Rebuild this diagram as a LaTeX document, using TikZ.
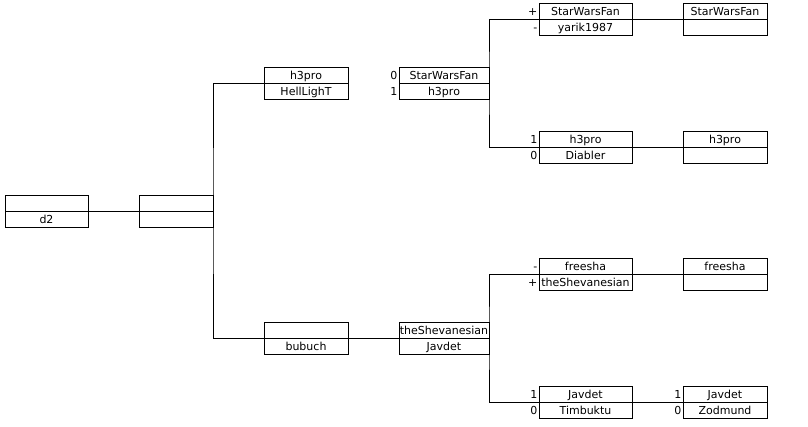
\documentclass[tikz,border=0pt]{standalone}
\usepackage{fontspec}
\setmainfont{DejaVu Sans}
\usetikzlibrary{positioning}

\begin{document}
\begin{tikzpicture}[x=1pt,y=-1pt,
    cell/.style={draw, line width=0.9pt, minimum height=16pt, inner xsep=0pt, inner ysep=0pt,
      outer sep=0pt, text height=9pt, text depth=0pt, font=\fontsize{11}{12}\selectfont},
    side/.style={inner sep=1.5pt, text height=9pt, text depth=0pt, font=\fontsize{11}{12}\selectfont},
    edge/.style={line width=0.9pt}]
    \useasboundingbox (0,0) rectangle (808,427);
    % root and first split
    \node[cell, minimum width=83pt] (r1) at (46.5,203) {};
    \node[cell, minimum width=83pt, below=0pt of r1] (r2) {d2};
    \node[cell, minimum width=74pt] (s1) at (176,203) {};
    \node[cell, minimum width=74pt, below=0pt of s1] (s2) {};
    % upper half
    \node[cell, minimum width=84pt] (h1) at (306,75) {h3pro};
    \node[cell, minimum width=84pt, below=0pt of h1] (h2) {HellLighT};
    \node[cell, minimum width=90pt, label={[side]left:0}] (sw1) at (444,75) {StarWarsFan};
    \node[cell, minimum width=90pt, label={[side]left:1}, below=0pt of sw1] (sw2) {h3pro};
    \node[cell, minimum width=93pt, label={[side]left:+}] (ya1) at (585.5,11) {StarWarsFan};
    \node[cell, minimum width=93pt, label={[side]left:-}, below=0pt of ya1] (ya2) {yarik1987};
    \node[cell, minimum width=84pt] (yb1) at (725,11) {StarWarsFan};
    \node[cell, minimum width=84pt, below=0pt of yb1] (yb2) {};
    \node[cell, minimum width=93pt, label={[side]left:1}] (di1) at (585.5,139) {h3pro};
    \node[cell, minimum width=93pt, label={[side]left:0}, below=0pt of di1] (di2) {Diabler};
    \node[cell, minimum width=84pt] (dj1) at (725,139) {h3pro};
    \node[cell, minimum width=84pt, below=0pt of dj1] (dj2) {};
    % lower half
    \node[cell, minimum width=84pt] (bu1) at (306,330) {};
    \node[cell, minimum width=84pt, below=0pt of bu1] (bu2) {bubuch};
    \node[cell, minimum width=90pt] (ts1) at (444,330) {theShevanesian};
    \node[cell, minimum width=90pt, below=0pt of ts1] (ts2) {Javdet};
    \node[cell, minimum width=93pt, label={[side]left:-}] (fr1) at (585.5,266) {freesha};
    \node[cell, minimum width=93pt, label={[side]left:+}, below=0pt of fr1] (fr2) {theShevanesian};
    \node[cell, minimum width=84pt] (fs1) at (725,266) {freesha};
    \node[cell, minimum width=84pt, below=0pt of fs1] (fs2) {};
    \node[cell, minimum width=93pt, label={[side]left:1}] (ti1) at (585.5,394) {Javdet};
    \node[cell, minimum width=93pt, label={[side]left:0}, below=0pt of ti1] (ti2) {Timbuktu};
    \node[cell, minimum width=84pt, label={[side]left:1}] (zo1) at (725,394) {Javdet};
    \node[cell, minimum width=84pt, label={[side]left:0}, below=0pt of zo1] (zo2) {Zodmund};
    % connectors
    \draw[edge] (r1.south east) -- (s1.south west);
    \draw[edge] (h1.south west) -| (s1.south east) |- (bu1.south west);
    \draw[edge] (ya1.south west) -| (sw1.south east) |- (di1.south west);
    \draw[edge] (ya1.south east) -- (yb1.south west);
    \draw[edge] (di1.south east) -- (dj1.south west);
    \draw[edge] (bu1.south east) -- (ts1.south west);
    \draw[edge] (fr1.south west) -| (ts1.south east) |- (ti1.south west);
    \draw[edge] (fr1.south east) -- (fs1.south west);
    \draw[edge] (ti1.south east) -- (zo1.south west);
\end{tikzpicture}
\end{document}
